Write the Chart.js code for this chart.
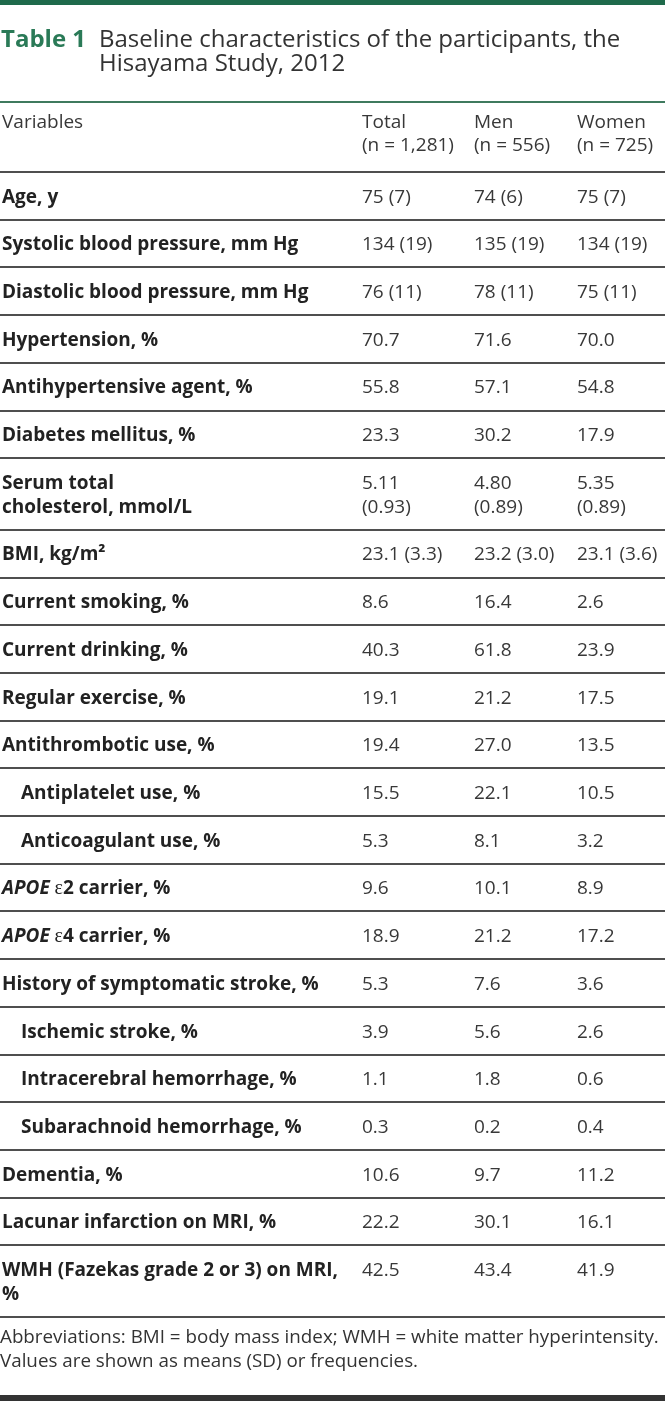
<!DOCTYPE html>
<html>
<head>
<meta charset="utf-8">
<script src="https://cdn.jsdelivr.net/npm/chart.js@4.4.1/dist/chart.umd.min.js"></script>
<style>
  html, body { margin: 0; padding: 0; background: #fff; }
  #wrap { width: 665px; height: 1401px; }
</style>
</head>
<body>
<div id="wrap"><canvas id="myTable" width="665" height="1401"></canvas></div>
<script>
// Table 1 data
const variables = [
  "Age, y",
  "Systolic blood pressure, mm Hg",
  "Diastolic blood pressure, mm Hg",
  "Hypertension, %",
  "Antihypertensive agent, %",
  "Diabetes mellitus, %",
  "Serum total\ncholesterol, mmol/L",
  "BMI, kg/m²",
  "Current smoking, %",
  "Current drinking, %",
  "Regular exercise, %",
  "Antithrombotic use, %",
  "Antiplatelet use, %",
  "Anticoagulant use, %",
  "_APOE_ ε2 carrier, %",
  "_APOE_ ε4 carrier, %",
  "History of symptomatic stroke, %",
  "Ischemic stroke, %",
  "Intracerebral hemorrhage, %",
  "Subarachnoid hemorrhage, %",
  "Dementia, %",
  "Lacunar infarction on MRI, %",
  "WMH (Fazekas grade 2 or 3) on MRI,\n%",
];
const subRows = [
  "Antiplatelet use, %",
  "Anticoagulant use, %",
  "Ischemic stroke, %",
  "Intracerebral hemorrhage, %",
  "Subarachnoid hemorrhage, %",
];
const totalValues = [
  "75 (7)", "134 (19)", "76 (11)", "70.7", "55.8", "23.3", "5.11\n(0.93)",
  "23.1 (3.3)", "8.6", "40.3", "19.1", "19.4", "15.5", "5.3", "9.6", "18.9",
  "5.3", "3.9", "1.1", "0.3", "10.6", "22.2", "42.5",
];
const menValues = [
  "74 (6)", "135 (19)", "78 (11)", "71.6", "57.1", "30.2", "4.80\n(0.89)",
  "23.2 (3.0)", "16.4", "61.8", "21.2", "27.0", "22.1", "8.1", "10.1", "21.2",
  "7.6", "5.6", "1.8", "0.2", "9.7", "30.1", "43.4",
];
const womenValues = [
  "75 (7)", "134 (19)", "75 (11)", "70.0", "54.8", "17.9", "5.35\n(0.89)",
  "23.1 (3.6)", "2.6", "23.9", "17.5", "13.5", "10.5", "3.2", "8.9", "17.2",
  "3.6", "2.6", "0.6", "0.4", "11.2", "16.1", "41.9",
];
const columnNames = ["Total", "Men", "Women"];
const columnCounts = ["(n = 1,281)", "(n = 556)", "(n = 725)"];
const tableNumber = "Table 1";
const titleLines = [
  "Baseline characteristics of the participants, the",
  "Hisayama Study, 2012",
];
const footnoteLines = [
  "Abbreviations: BMI = body mass index; WMH = white matter hyperintensity.",
  "Values are shown as means (SD) or frequencies.",
];

// layout
const FONT = '"Open Sans", "Noto Sans", sans-serif';
const SIZE = 19;
const LABEL = "#222";
const TEXT = "#383838";
const RULE = "#4f4f4f";
const colX = [2, 362, 474, 577];
const LINE = 24;
const CAP = SIZE * 0.714;

const cols = [variables, totalValues, menValues, womenValues];
const lineCount = variables.map((v, i) =>
  Math.max(...cols.map((c) => c[i].split("\n").length))
);
// each row is 1 unit tall, 1.5 when it wraps onto two lines
const rowSize = lineCount.map((n) => (n > 1 ? 1.5 : 1));
const rowTop = [];
rowSize.reduce((acc, s, i) => { rowTop[i] = acc; return acc + s; }, 0);
const totalUnits = rowSize.reduce((a, b) => a + b, 0);

function drawRich(ctx, text, x, y) {
  // _word_ = italic, ε uses a serif face
  const parts = text.split("_");
  let cx = x;
  parts.forEach((part, k) => {
    const italic = k % 2 === 1;
    for (const ch of part) {
      if (ch === "ε") {
        ctx.font = SIZE + 1 + 'px "Liberation Serif", serif';
      } else {
        ctx.font = (italic ? "italic " : "") + "bold " + SIZE + "px " + FONT;
      }
      ctx.fillText(ch, cx, y);
      cx += ctx.measureText(ch).width;
    }
  });
}

const tablePlugin = {
  id: "tableText",
  afterDraw(chart) {
    const ctx = chart.ctx;
    const xs = chart.scales.x;
    const ys = chart.scales.y;
    const left = xs.getPixelForValue(0);
    const right = xs.getPixelForValue(665);
    ctx.save();
    ctx.textBaseline = "alphabetic";
    ctx.textAlign = "left";

    // top bar and title
    ctx.fillStyle = "#1f6a4b";
    ctx.fillRect(left, 0, right - left, 5);
    ctx.font = "bold 24px " + FONT;
    ctx.fillStyle = "#2a7a57";
    ctx.fillText(tableNumber, left + 1, 47);
    ctx.font = "24px " + FONT;
    ctx.fillStyle = "#333";
    titleLines.forEach((t, i) => ctx.fillText(t, left + 99, 47 + i * 24));
    ctx.fillStyle = "#3f7a5e";
    ctx.fillRect(left, 101, right - left, 2);

    // header
    ctx.font = SIZE + "px " + FONT;
    ctx.fillStyle = TEXT;
    ctx.fillText("Variables", colX[0], 128);
    columnNames.forEach((c, i) => {
      ctx.fillText(c, colX[i + 1], 128);
      ctx.fillText(columnCounts[i], colX[i + 1], 151);
    });

    // row rules
    ctx.strokeStyle = RULE;
    ctx.lineWidth = 2;
    for (let u = 0; u <= rowSize.length; u++) {
      const v = u < rowSize.length ? rowTop[u] : totalUnits;
      const py = Math.round(ys.getPixelForValue(v));
      ctx.beginPath();
      ctx.moveTo(left, py);
      ctx.lineTo(right, py);
      ctx.stroke();
    }

    // cells: text block centred on the row point, cells top-aligned
    chart.data.datasets.forEach((ds, d) => {
      const meta = chart.getDatasetMeta(d);
      meta.data.forEach((pt, i) => {
        const lines = ds.cells[i].split("\n");
        const first = pt.y - ((lineCount[i] - 1) * LINE) / 2 + CAP / 2;
        lines.forEach((ln, k) => {
          const by = first + k * LINE;
          if (d === 0) {
            ctx.fillStyle = LABEL;
            drawRich(ctx, ln, pt.x, by);
          } else {
            ctx.fillStyle = TEXT;
            ctx.font = SIZE + "px " + FONT;
            ctx.fillText(ln, pt.x, by);
          }
        });
      });
    });

    // footnote and bottom bar
    ctx.font = "18.8px " + FONT;
    ctx.fillStyle = "#333";
    const fb = ys.getPixelForValue(totalUnits);
    footnoteLines.forEach((t, i) => ctx.fillText(t, left, fb + 26 + i * 24));
    ctx.fillStyle = "#333";
    ctx.fillRect(left, 1395, right - left, 6);
    ctx.restore();
  },
};

function columnData(cells, x, indentSub) {
  return cells.map((c, i) => ({
    x: indentSub && subRows.includes(c) ? x + 19 : x,
    y: rowTop[i] + rowSize[i] / 2,
  }));
}

Promise.all([
  document.fonts.load('19px "Open Sans"'),
  document.fonts.load('bold 19px "Open Sans"'),
  document.fonts.load('italic bold 19px "Open Sans"'),
  document.fonts.load('bold 24px "Open Sans"'),
]).catch(() => null).then(() => {
  const tableChart = document.getElementById("myTable").getContext("2d");
  new Chart(tableChart, {
    type: "scatter",
    data: {
      datasets: cols.map((cells, d) => ({
        label: d === 0 ? "Variables" : columnNames[d - 1],
        data: columnData(cells, colX[d], d === 0),
        cells: cells,
        pointRadius: 0,
        showLine: false,
      })),
    },
    options: {
      responsive: false,
      animation: false,
      events: [],
      layout: { padding: { top: 172, bottom: 84, left: 0, right: 0 } },
      scales: {
        x: { type: "linear", min: 0, max: 665, display: false },
        y: { type: "linear", min: 0, max: totalUnits, reverse: true, display: false },
      },
      plugins: {
        legend: { display: false },
        tooltip: { enabled: false },
      },
    },
    plugins: [tablePlugin],
  });
});
</script>
</body>
</html>
